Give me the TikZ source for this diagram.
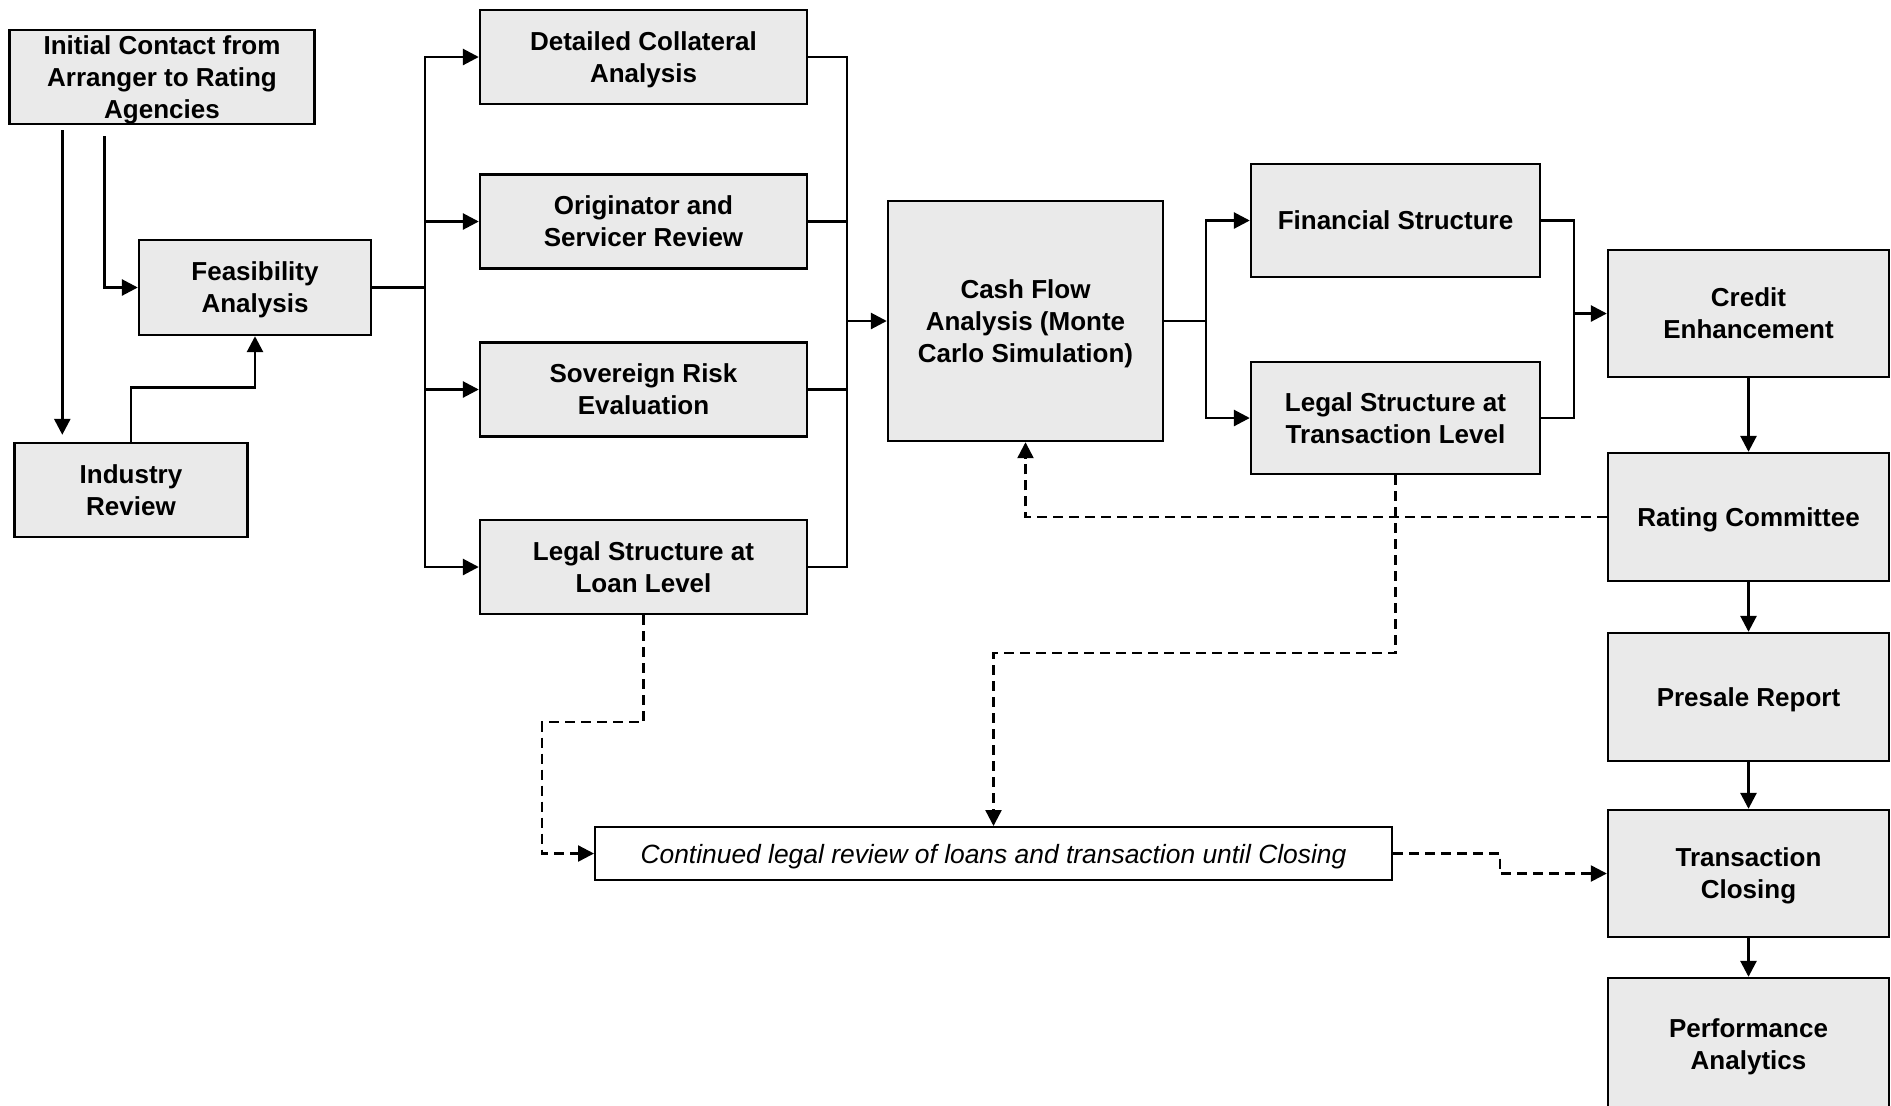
\documentclass[tikz,border=0pt]{standalone}
\usepackage{fontspec}
\setmainfont{Liberation Sans}
\usepackage{tikz}
\usetikzlibrary{arrows.meta}
\definecolor{boxfill}{HTML}{EAEAEA}

\tikzset{
  stagebox/.style={draw, line width=1.2pt, fill=boxfill, inner sep=0pt, align=center,
    text depth=0pt, font=\fontsize{13}{16}\selectfont\bfseries},
  notebox/.style={draw, line width=1pt, fill=white, inner sep=0pt, align=center,
    text depth=0pt, font=\fontsize{13.2}{16}\selectfont\itshape},
  arr/.style={line width=1.4pt, -{Triangle[length=8pt,width=8pt]}},
  link/.style={line width=1.4pt},
  darr/.style={line width=1.2pt, dash pattern=on 5pt off 3pt, -{Triangle[length=8pt,width=8pt]}}
}

\begin{document}
\begin{tikzpicture}[x=0.5pt, y=-0.5pt]
  \useasboundingbox (0,0) rectangle (1891,1105);

  % Define nodes
  \node[stagebox, minimum width=152.5pt, minimum height=47pt] (init) at (162,77)
    {Initial Contact from\\Arranger to Rating\\Agencies};
  \node[stagebox, minimum width=116pt, minimum height=47.5pt] (feas) at (255,287.5)
    {Feasibility\\Analysis};
  \node[stagebox, minimum width=116.5pt, minimum height=47pt] (ind) at (131,490)
    {Industry\\Review};

  \node[stagebox, minimum width=163.5pt, minimum height=47pt] (coll) at (643.5,57)
    {Detailed Collateral\\Analysis};
  \node[stagebox, minimum width=163.5pt, minimum height=47pt] (orig) at (643.5,221.5)
    {Originator and\\Servicer Review};
  \node[stagebox, minimum width=163.5pt, minimum height=47pt] (sov) at (643.5,389.5)
    {Sovereign Risk\\Evaluation};
  \node[stagebox, minimum width=163.5pt, minimum height=47pt] (lloan) at (643.5,567)
    {Legal Structure at\\Loan Level};

  \node[stagebox, minimum width=137.5pt, minimum height=120pt] (cash) at (1025.5,321)
    {Cash Flow\\Analysis (Monte\\Carlo Simulation)};

  \node[stagebox, minimum width=144.5pt, minimum height=56.5pt] (fin) at (1395.5,220.5)
    {Financial Structure};
  \node[stagebox, minimum width=144.5pt, minimum height=56pt] (ltrans) at (1395.5,418)
    {Legal Structure at\\Transaction Level};

  \node[stagebox, minimum width=140.5pt, minimum height=63.5pt] (cred) at (1748.5,313.5)
    {Credit\\Enhancement};
  \node[stagebox, minimum width=140.5pt, minimum height=64pt] (rate) at (1748.5,517)
    {Rating Committee};
  \node[stagebox, minimum width=140.5pt, minimum height=64pt] (pre) at (1748.5,697)
    {Presale Report};
  \node[stagebox, minimum width=140.5pt, minimum height=63.5pt] (close) at (1748.5,873.5)
    {Transaction\\Closing};
  \node[stagebox, minimum width=140.5pt, minimum height=66pt] (perf) at (1748.5,1044)
    {Performance\\Analytics};

  \node[notebox, minimum width=398.5pt, minimum height=26.5pt] (cont) at (993.5,853.5)
    {Continued legal review of loans and transaction until Closing};

  % Junction points
  \coordinate (busL) at (425,287.5);
  \coordinate (busM) at (847,321);
  \coordinate (busR) at (1206,321);
  \coordinate (busC) at (1574,313.5);

  % Connect the nodes
  \draw[arr, shorten <=2.5pt, shorten >=3.5pt] ([xshift=27pt]init.south west)
    -- ([xshift=27pt]init.south west |- ind.north);
  \draw[arr, shorten <=5.5pt] ([xshift=48.25pt]init.south west) |- (feas.west);
  \draw[arr] (ind.north) -- ++(0,-54) -| (feas.south);

  \draw[link] (feas.east) -- (busL);
  \draw[arr] (busL) |- (coll.west);
  \draw[arr] (busL) |- (orig.west);
  \draw[arr] (busL) |- (sov.west);
  \draw[arr] (busL) |- (lloan.west);

  \draw[link] (coll.east) -| (busM);
  \draw[link] (orig.east) -| (busM);
  \draw[link] (sov.east) -| (busM);
  \draw[link] (lloan.east) -| (busM);
  \draw[arr] (busM) -- (cash.west);

  \draw[link] (cash.east) -- (busR);
  \draw[arr] (busR) |- (fin.west);
  \draw[arr] (busR) |- (ltrans.west);

  \draw[link] (fin.east) -| (busC);
  \draw[link] (ltrans.east) -| (busC);
  \draw[arr] (busC) -- (cred.west);

  \draw[arr] (cred.south) -- (rate.north);
  \draw[arr] (rate.south) -- (pre.north);
  \draw[arr] (pre.south) -- (close.north);
  \draw[arr] (close.south) -- (perf.north);

  % Dashed feedback and legal review
  \draw[darr] (rate.west) -| (cash.south);
  \draw[darr] (ltrans.south) -- ++(0,178) -| (cont.north);
  \draw[darr] (lloan.south) -- ++(0,107) -- ++(-101.5,0) |- (cont.west);
  \draw[darr] (cont.east) -- ++(107,0) |- (close.west);

\end{tikzpicture}
\end{document}
